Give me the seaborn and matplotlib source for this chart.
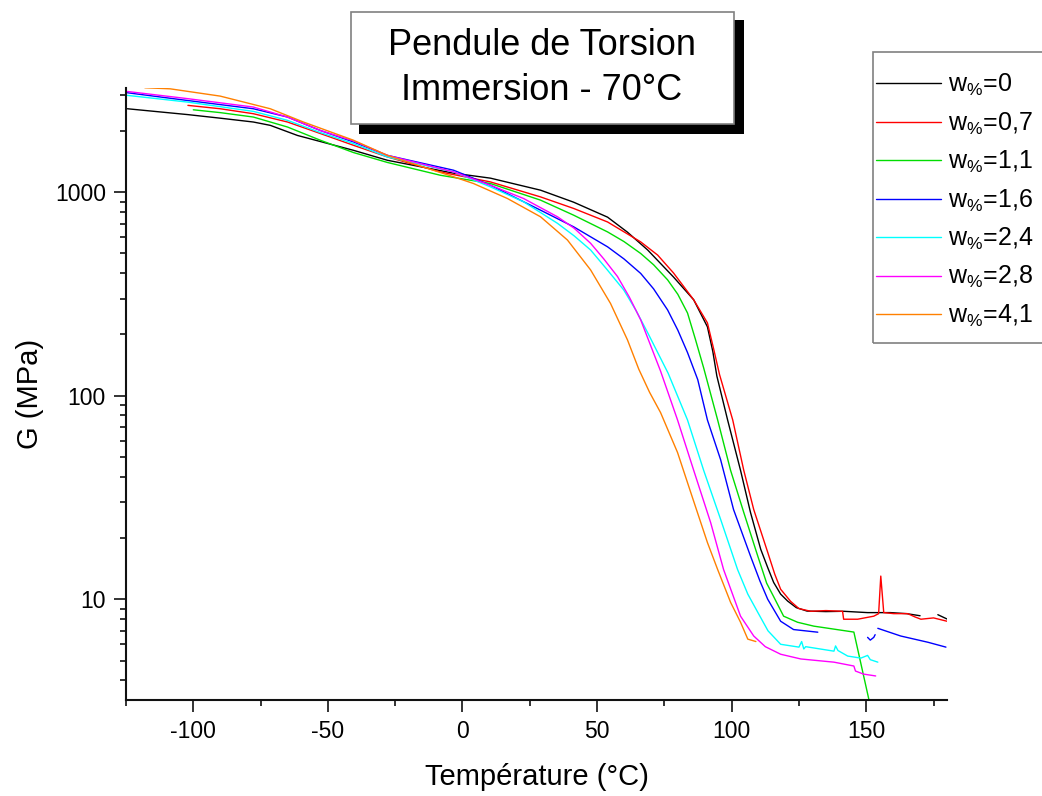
import numpy as np
import pandas as pd
import matplotlib
matplotlib.use("Agg")
import matplotlib.pyplot as plt
import seaborn as sns
from matplotlib.lines import Line2D
from matplotlib.patches import Rectangle
from matplotlib.ticker import LogLocator, MultipleLocator, NullFormatter, FixedLocator, FuncFormatter

nan = np.nan

# =========================
# Données
# =========================
labels = ["0", "0,7", "1,1", "1,6", "2,4", "2,8", "4,1"]
colors = ["#000000", "#ff0000", "#00dd00", "#0000ff", "#00ffff", "#ff00ff", "#ff8000"]

T_w0 = [-124.5, -102, -90, -77.7, -71.4, -61.3, -40.5, -27.9, -3.3, 10.4, 29, 41.3, 53.9, 61.3,
        68.8, 78.4, 85.9, 91, 93, 94.5, 98.5, 103.3, 107, 110.8, 113.5, 115.6, 118.2, 120.8, 124,
        128, 135, 141.6, 150.5, 159, 165, 170, nan, 176.6, 180]
G_w0 = [2570, 2405, 2310, 2212, 2130, 1900, 1606, 1435, 1240, 1172, 1023, 893, 754, 636,
        520, 383, 296, 218, 165, 125, 76, 43, 26.7, 17.6, 14.2, 12.1, 10.6, 9.8, 9.1,
        8.75, 8.7, 8.73, 8.6, 8.6, 8.5, 8.3, nan, 8.4, 8.0]

T_w07 = [-102, -90, -77.7, -65, -52.8, -40.5, -27.9, -8.2, 10.4, 29, 41.3, 53.9, 66.2, 72.5,
         78.4, 85.9, 91, 93.3, 95.5, 100.4, 104.5, 108.2, 113.4, 116, 118.2, 121.9, 125, 129.4, 135,
         141.2, 141.6, 146.8, 152.8, 154.6, 155.4, 156.5, 160.2, 165.4, 168, 170.3, 175, 180]
G_w07 = [2670, 2570, 2430, 2212, 1942, 1700, 1490, 1257, 1123, 948, 832, 714, 570, 491,
         401, 296, 228, 170, 127, 76, 43, 27.6, 17, 13.3, 11.2, 9.77, 9.0, 8.73, 8.8,
         8.73, 7.98, 7.98, 8.26, 8.5, 13, 8.6, 8.5, 8.5, 8.2, 7.98, 8.1, 7.8]

T_w11 = [-100, -90, -77.7, -65, -52.8, -40.5, -27.9, -8.2, 10.4, 29, 41.3, 53.9, 60, 66.2, 71,
         76.2, 80, 83.6, 86.5, 89.6, 94.8, 99.6, 104.5, 109.7, 113, 115.6, 119.3, 124.5, 130.5,
         145.4, 152]
G_w11 = [2540, 2460, 2340, 2090, 1800, 1566, 1400, 1211, 1103, 914, 771, 638, 572, 500, 440,
         371, 315, 255, 190, 137, 76, 43, 26.7, 16.3, 12, 10.3, 8.26, 7.71, 7.38,
         6.9, 2.8]

T_w16 = [-124.5, -102, -77.7, -65, -52.8, -40.5, -27.9, -3.3, 10.4, 29, 41.3, 53.9, 60, 66.2,
         71, 76.2, 80, 83.6, 87.4, 91, 95.9, 100.7, 107, 110.5, 113.4, 118.2, 123, 132, nan,
         150.5, 151.5, 152.8, 153.3, nan, 154.3, 162.8, 172.9, 179.6]
G_w16 = [3080, 2820, 2570, 2340, 2010, 1766, 1517, 1282, 1082, 816, 676, 539, 470, 399,
         335, 264, 210, 163, 120, 76, 48.5, 27.6, 16.3, 12.3, 10.0, 7.8, 7.1, 6.89, nan,
         6.5, 6.3, 6.5, 6.7, nan, 7.2, 6.6, 6.15, 5.82]

T_w24 = [-124.5, -102, -77.7, -65, -52.8, -40.5, -27.9, -3.3, 10.4, 22.7, 35.3, 41.5, 47.6,
         53.5, 59.9, 64.5, 68.8, 76.4, 83.6, 89.6, 95.9, 102.2, 106, 109.7, 113.5, 118.2, 125,
         126, 126.8, 127.5, 138, 138.6, 139.5, 143.1, 148, 150.5, 151.5, 154.3]
G_w24 = [2990, 2770, 2495, 2254, 1963, 1734, 1490, 1258, 1062, 897, 703, 610, 520,
         420, 331, 262, 204, 129, 76, 43, 24.7, 14, 10.6, 8.63, 7.0, 6.01, 5.82,
         6.2, 5.7, 5.85, 5.56, 5.9, 5.6, 5.26, 5.14, 5.3, 5.05, 4.91]

T_w28 = [-124.5, -102, -77.7, -65, -52.8, -40.5, -27.9, -3.3, 10.4, 22.7, 35.3, 41.5, 47.6,
         52.5, 57.6, 62, 66.2, 73.6, 79.9, 85.9, 92.2, 97, 103.3, 108.2, 112.5, 118.2, 125.7,
         138, 145.4, 146, 149, 153.5]
G_w28 = [3125, 2880, 2620, 2340, 2010, 1786, 1517, 1258, 1082, 931, 757, 665, 561,
         470, 385, 305, 236, 132, 76, 43, 23.8, 14, 8.26, 6.6, 5.85, 5.37, 5.09,
         4.91, 4.70, 4.44, 4.29, 4.2]

T_w41 = [-118, -108.6, -90, -71.4, -59.1, -40.5, -27.9, -3.3, 4.1, 16.7, 29, 39, 47.6, 55,
         61.3, 65.5, 69.5, 73.6, 79.9, 84.8, 91, 94.8, 99.6, 103.3, 106, 109]
G_w41 = [3260, 3220, 2965, 2570, 2212, 1800, 1517, 1190, 1103, 931, 757, 582, 415, 284,
         188, 135, 104, 82.6, 52.6, 33.5, 19, 14, 9.66, 7.71, 6.37, 6.2]

series_T = [T_w0, T_w07, T_w11, T_w16, T_w24, T_w28, T_w41]
series_G = [G_w0, G_w07, G_w11, G_w16, G_w24, G_w28, G_w41]

# =========================
# Tableau long format (segments coupés aux NaN)
# =========================
rows = []
for lab, ts, gs in zip(labels, series_T, series_G):
    seg = 0
    for t, g in zip(ts, gs):
        if np.isnan(t):
            seg += 1
            continue
        rows.append({"T": t, "G": g, "w": lab, "seg": f"{lab}_{seg}"})
df = pd.DataFrame(rows)

sns.set_style("ticks")
plt.rcParams["font.family"] = ["Liberation Sans", "DejaVu Sans"]
plt.rcParams["mathtext.fontset"] = "custom"
plt.rcParams["mathtext.rm"] = "Liberation Sans"
plt.rcParams["mathtext.it"] = "Liberation Sans"
plt.rcParams["axes.unicode_minus"] = False
for k in ["text.color", "axes.labelcolor", "xtick.color", "ytick.color"]:
    plt.rcParams[k] = "black"

fig = plt.figure(figsize=(10.42, 7.96), dpi=100)
ax = fig.add_axes([126 / 1042, 1 - 700 / 796, (947 - 126) / 1042, (700 - 88) / 796])

sns.lineplot(data=df, x="T", y="G", hue="w", hue_order=labels, palette=colors,
             units="seg", estimator=None, sort=False, lw=1.0, legend=False, ax=ax)

ax.set_yscale("log")
ax.set_xlim(-125, 180)
ax.set_ylim(3.2, 3250)
ax.xaxis.set_major_locator(FixedLocator([-100, -50, 0, 50, 100, 150]))
ax.xaxis.set_minor_locator(MultipleLocator(25))
ax.yaxis.set_major_locator(FixedLocator([10, 100, 1000]))
ax.yaxis.set_major_formatter(FuncFormatter(lambda v, p: f"{v:.0f}"))
ax.yaxis.set_minor_locator(LogLocator(base=10, subs=np.arange(2, 10)))
ax.yaxis.set_minor_formatter(NullFormatter())

sns.despine(ax=ax)
for s in ["left", "bottom"]:
    ax.spines[s].set_linewidth(1.5)
    ax.spines[s].set_color("#111111")
ax.tick_params(which="major", length=8.5, width=1.2, labelsize=16.5, pad=6, color="#111111")
ax.tick_params(which="minor", length=4.5, width=1.2, color="#111111")

ax.set_xlabel("Température (°C)", fontsize=21, labelpad=14)
ax.set_ylabel("G (MPa)", fontsize=21, labelpad=8)

# Légende (cadre dessiné à part, il déborde à droite de la figure)
fig.add_artist(Rectangle((873 / 1042, 1 - 343 / 796), 200 / 1042, 291 / 796,
                         transform=fig.transFigure, facecolor="none", edgecolor="#808080", lw=1.2))
handles = [Line2D([], [], color=c, lw=1.0) for c in colors]
leg_labels = [r"w$_{\%}$=" + lab for lab in labels]
leg = ax.legend(handles, leg_labels, loc="upper left", bbox_to_anchor=(876 / 1042, 1 - 72 / 796),
                bbox_transform=fig.transFigure, fontsize=18, frameon=False,
                borderpad=0, handlelength=2.6, handletextpad=0.3, labelspacing=0.49,
                borderaxespad=0)

# Cadre du titre avec ombre
fig.add_artist(Rectangle((359 / 1042, 1 - 134 / 796), 385 / 1042, 114 / 796,
                         transform=fig.transFigure, facecolor="black", edgecolor="none"))
fig.add_artist(Rectangle((351 / 1042, 1 - 124 / 796), 383 / 1042, 112 / 796,
                         transform=fig.transFigure, facecolor="white", edgecolor="#808080", lw=1.2))
fig.text(542 / 1042, 1 - 55 / 796, "Pendule de Torsion", ha="center", va="baseline", fontsize=26)
fig.text(542 / 1042, 1 - 100 / 796, "Immersion - 70°C", ha="center", va="baseline", fontsize=26)

fig.savefig("out.png", dpi=100)
